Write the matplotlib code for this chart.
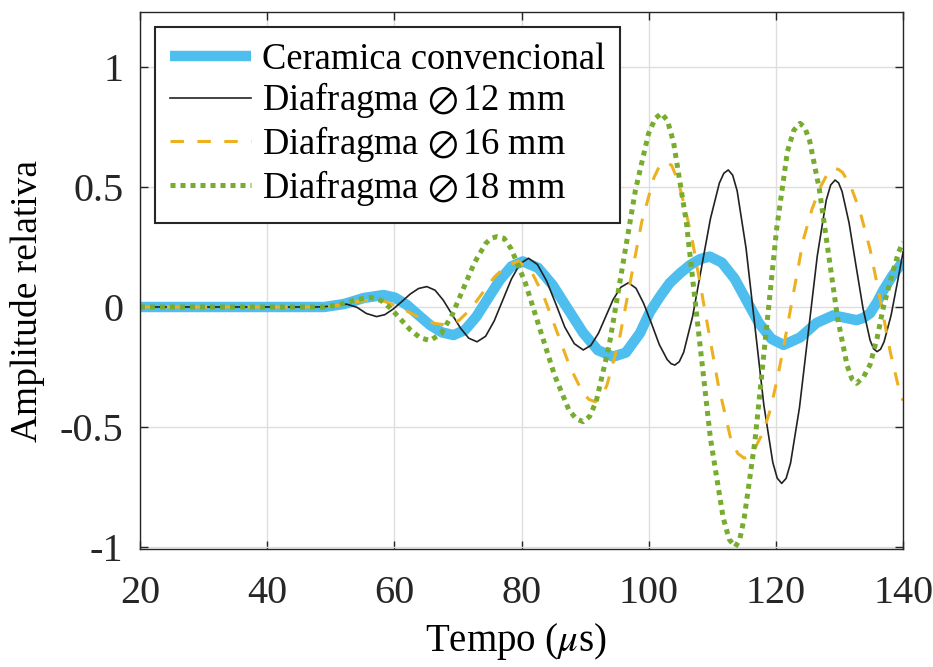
import matplotlib
matplotlib.use('Agg')
import matplotlib.pyplot as plt

plt.rcParams['font.family'] = ['Liberation Serif', 'DejaVu Sans']
plt.rcParams['mathtext.fontset'] = 'stix'
plt.rcParams['axes.unicode_minus'] = False

# received signals, time in microseconds vs relative amplitude
ceramica = [(20, 0), (30, 0), (40, 0), (49, 0), (52.1, 0.0125), (55.2, 0.0375), (58.3, 0.05),
            (60.1, 0.039), (62.0, 0.008), (63.8, -0.034), (65.6, -0.075), (67.5, -0.106),
            (69.3, -0.117), (71.1, -0.096), (72.9, -0.04), (74.75, 0.037), (76.6, 0.113),
            (78.4, 0.169), (80.2, 0.19), (82.6, 0.163), (84.9, 0.091), (87.3, -0.009),
            (89.7, -0.108), (92.0, -0.18), (94.4, -0.207), (96.4, -0.19), (98.6, -0.11),
            (100.2, -0.02), (101.8, 0.045), (103.3, 0.10), (104.9, 0.14), (106.5, 0.175),
            (108.1, 0.2), (109.6, 0.21), (111.5, 0.185), (113.5, 0.118), (115.4, 0.026),
            (117.3, -0.066), (119.3, -0.133), (121.2, -0.158), (123.8, -0.127), (126.4, -0.066),
            (129.0, -0.035), (130.9, -0.045), (132.7, -0.055), (133.8, -0.045), (134.8, -0.026),
            (135.9, 0.02), (136.9, 0.07), (138.3, 0.13), (140, 0.19)]

diaf12 = [(20, 0), (30, 0), (40, 0), (48, 0), (50.5, 0.004), (52.5, 0.012), (54.1, -0.001),
          (55.6, -0.027), (57.2, -0.04), (58.5, -0.032), (59.8, -0.009), (61.15, 0.022),
          (62.5, 0.054), (63.8, 0.077), (65.1, 0.085), (66.4, 0.07), (67.7, 0.028),
          (69.05, -0.03), (70.4, -0.088), (71.7, -0.13), (73.0, -0.145), (74.35, -0.122),
          (75.7, -0.058), (77.05, 0.029), (78.4, 0.116), (79.75, 0.18), (81.1, 0.203),
          (82.5, 0.177), (83.95, 0.108), (85.4, 0.012), (86.8, -0.084), (88.3, -0.153),
          (89.7, -0.179), (90.9, -0.16), (92.1, -0.109), (93.25, -0.039), (94.4, 0.031),
          (95.6, 0.082), (96.8, 0.101), (98.0, 0.078), (99.2, 0.015), (100.45, -0.07),
          (101.65, -0.156), (102.9, -0.219), (103.5, -0.236), (104.1, -0.242), (104.8, -0.228),
          (105.5, -0.188), (106.9, -0.039), (108.3, 0.165), (109.7, 0.368), (111.1, 0.516),
          (111.8, 0.557), (112.5, 0.571), (113.2, 0.549), (113.9, 0.484), (115.3, 0.245),
          (116.7, -0.082), (118.1, -0.409), (119.5, -0.647), (120.2, -0.713), (120.9, -0.735),
          (121.6, -0.714), (122.3, -0.65), (123.7, -0.419), (125.1, -0.103), (126.5, 0.213),
          (127.9, 0.444), (128.6, 0.508), (129.3, 0.529), (129.85, 0.517), (130.4, 0.481),
          (131.5, 0.35), (132.6, 0.17), (133.7, -0.007), (134.8, -0.138), (135.35, -0.174),
          (135.9, -0.186), (136.45, -0.176), (137.0, -0.145), (138.1, -0.035), (139.2, 0.117),
          (140, 0.23)]

diaf16 = [(20, 0), (30, 0), (40, 0), (49, 0), (51.5, 0.008), (54, 0.022), (56.5, 0.03),
          (58.45, 0.023), (60.4, 0.004), (62.35, -0.022), (64.3, -0.049), (66.25, -0.068),
          (68.2, -0.075), (70.1, -0.057), (72.0, -0.009), (73.85, 0.058), (75.7, 0.124),
          (77.6, 0.172), (79.5, 0.19), (81.5, 0.151), (83.5, 0.044), (85.55, -0.102),
          (87.6, -0.249), (89.6, -0.356), (90.6, -0.385), (91.6, -0.395), (92.5, -0.378),
          (93.4, -0.328), (95.3, -0.145), (97.1, 0.105), (98.9, 0.355), (100.8, 0.538),
          (101.7, 0.588), (102.6, 0.605), (103.6, 0.59), (104.7, 0.52), (106.7, 0.30),
          (108.8, -0.01), (110.9, -0.32), (112.9, -0.55), (114.0, -0.61), (115.0, -0.63),
          (115.8, -0.62), (116.5, -0.60), (118.0, -0.52), (119.1, -0.43), (120.2, -0.30),
          (121.2, -0.167), (122.7, 0.05), (124.3, 0.28), (125.7, 0.41), (127.0, 0.50),
          (128.2, 0.56), (128.7, 0.572), (129.3, 0.578), (129.9, 0.572), (130.5, 0.56),
          (131.8, 0.50), (133.2, 0.40), (134.8, 0.24), (136.4, 0.03), (138.0, -0.19),
          (139.5, -0.36), (140, -0.39)]

diaf18 = [(20, 0), (30, 0), (40, 0), (49, 0), (51.4, 0.01), (53.9, 0.03), (56.3, 0.04),
          (57.85, 0.028), (59.4, -0.005), (60.95, -0.05), (62.5, -0.095), (64.05, -0.128),
          (65.6, -0.14), (67.35, -0.111), (69.1, -0.032), (70.85, 0.077), (72.6, 0.185),
          (74.35, 0.264), (75.2, 0.286), (76.1, 0.293), (77.25, 0.286), (78.4, 0.241),
          (80.6, 0.10), (82.9, -0.093), (85.2, -0.285), (87.4, -0.426), (88.55, -0.465),
          (89.7, -0.478), (90.7, -0.456), (91.75, -0.392), (93.8, -0.157), (95.85, 0.165),
          (97.9, 0.486), (99.95, 0.721), (101.0, 0.785), (102.0, 0.807), (102.95, 0.776),
          (103.9, 0.686), (105.9, 0.356), (107.8, -0.096), (109.7, -0.548), (111.7, -0.878),
          (112.65, -0.968), (113.6, -0.999), (114.3, -0.969), (115.0, -0.881), (116.7, -0.558),
          (118.4, -0.117), (120.1, 0.324), (121.8, 0.647), (122.8, 0.736), (123.8, 0.765),
          (124.55, 0.747), (125.3, 0.692), (126.8, 0.494), (128.25, 0.224), (129.7, -0.047),
          (131.2, -0.245), (131.95, -0.30), (132.7, -0.318), (133.8, -0.29), (134.8, -0.24),
          (135.9, -0.13), (136.9, 0.0), (138.1, 0.12), (139.3, 0.23), (140, 0.27)]

labels = ['Ceramica convencional', r'Diafragma $\oslash\,$12 mm',
          r'Diafragma $\oslash\,$16 mm', r'Diafragma $\oslash\,$18 mm']
xticks = [20, 40, 60, 80, 100, 120, 140]
yticks = [-1, -0.5, 0, 0.5, 1]
ytick_labels = ['-1', '-0.5', '0', '0.5', '1']

fig = plt.figure(figsize=(9.33, 6.67), dpi=100)
ax = fig.add_axes([0.150, 0.177, 0.818, 0.805])

t, y = zip(*ceramica)
ax.plot(t, y, color='#4DBEEE', lw=7.5, solid_capstyle='butt', label=labels[0])
t, y = zip(*diaf12)
ax.plot(t, y, color='#222222', lw=1.2, label=labels[1])
t, y = zip(*diaf16)
ax.plot(t, y, color='#EDB120', lw=2.2, ls='--', dashes=(4.4, 4.4), label=labels[2])
t, y = zip(*diaf18)
ax.plot(t, y, color='#77AC30', lw=3.6, ls=':', dashes=(1, 1), dash_capstyle='butt',
        label=labels[3])

ax.set_xlim(20, 140)
ax.set_ylim(-1.008, 1.229)
ax.set_xticks(xticks)
ax.set_yticks(yticks)
ax.set_yticklabels(ytick_labels)
ax.grid(True, color='#dedede', lw=1)
ax.set_axisbelow(True)
ax.tick_params(direction='in', top=True, right=True, length=6, width=1,
               colors='#262626', labelsize=29)
ax.tick_params(axis='x', pad=19)
ax.tick_params(axis='y', pad=12)
for s in ax.spines.values():
    s.set_color('#262626')
    s.set_linewidth(1)

ax.set_xlabel(r'Tempo ($\mu$s)', fontsize=28, va='center')
ax.xaxis.set_label_coords(0.493, -0.172)
ax.set_ylabel('Amplitude relativa', fontsize=27, va='center')
ax.yaxis.set_label_coords(-0.147, 0.462)

leg = ax.legend(loc='upper left', bbox_to_anchor=(15 / 763, 1 - 15 / 537),
                borderaxespad=0, fontsize=26.3, handlelength=2.2, handletextpad=0.3,
                labelspacing=0.1, borderpad=0.42, fancybox=False, framealpha=1,
                edgecolor='#262626')
leg.get_frame().set_linewidth(1.5)

fig.savefig('out.png', dpi=100)
